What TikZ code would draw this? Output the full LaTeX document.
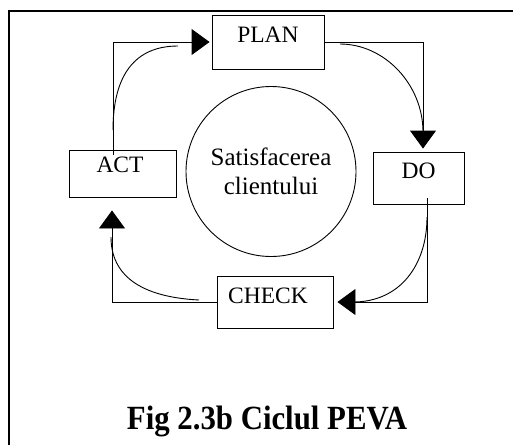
\documentclass[tikz,border=0pt]{standalone}
\usepackage{fontspec}
\usepackage{graphicx}
\setmainfont{Liberation Serif}
\usetikzlibrary{arrows.meta}
\begin{document}
\begin{tikzpicture}[x=1pt,y=-1pt,
  stagebox/.style={draw, line width=0.9pt, inner sep=0pt, anchor=base,
    font=\fontsize{23.5}{26}\selectfont},
  flow/.style={line width=0.9pt},
  tip/.style={-{Triangle[length=18pt,width=26pt]}},
  frame/.style={line width=1.4pt}]
  \useasboundingbox (0,0) rectangle (513,445);

  % page frame (open to the right and bottom)
  \draw[frame] (9,445) -- (9,11) -- (513,11);

  % the four stages of the cycle
  \node[stagebox, minimum width=112pt, text height=27pt, text depth=27pt] (plan) at (268,42) {PLAN};
  \node[stagebox, minimum width=91pt, text height=26pt, text depth=26pt] (do) at (418.5,178) {DO};
  \node[stagebox, minimum width=116pt, text height=27pt, text depth=25pt] (check) at (275,303) {CHECK\hspace*{14pt}};
  \node[stagebox, minimum width=107pt, text height=22pt, text depth=25pt] (act) at (122.5,172) {ACT\hspace*{5pt}};

  % centre
  \node[draw, circle, line width=0.9pt, minimum size=170pt, inner sep=0pt, align=center,
    font=\fontsize{25}{29}\selectfont] (goal) at (271,171.5) {Satisfacerea\\clientului};

  % elbow connectors with arrowheads
  \draw[flow, tip] ([xshift=-9.5pt, yshift=-5pt]act.north) |- ([xshift=-2pt]plan.west);
  \draw[flow, tip] (plan.east) -| ([xshift=4.5pt, yshift=3pt]do.north);
  \draw[flow, tip] ([xshift=8.5pt, yshift=6pt]do.south) |- ([xshift=4pt]check.east);
  \draw[flow, tip] (check.west) -| ([xshift=-10.5pt, yshift=-13pt]act.south);

  % curved strokes running alongside each connector
  \coordinate (c1a) at (113,130); \coordinate (c1b) at (178,46);
  \coordinate (c2a) at (340,44);  \coordinate (c2b) at (423,132);
  \coordinate (c3a) at (427,217); \coordinate (c3b) at (353,302);
  \coordinate (c4a) at (199,300); \coordinate (c4b) at (111,237);
  \draw[flow] (c1a) .. controls (113,75) and (135,46) .. (c1b);
  \draw[flow] (c2a) .. controls (385,44) and (423,85) .. (c2b);
  \draw[flow] (c3a) .. controls (427,265) and (400,302) .. (c3b);
  \draw[flow] (c4a) .. controls (140,297) and (111,275) .. (c4b);

  % caption
  \node[anchor=base, inner sep=0pt, font=\fontsize{30.8}{32}\selectfont\bfseries] (caption) at (267,429)
    {\scalebox{1}[1.1]{Fig 2.3b Ciclul PEVA}};
\end{tikzpicture}
\end{document}
